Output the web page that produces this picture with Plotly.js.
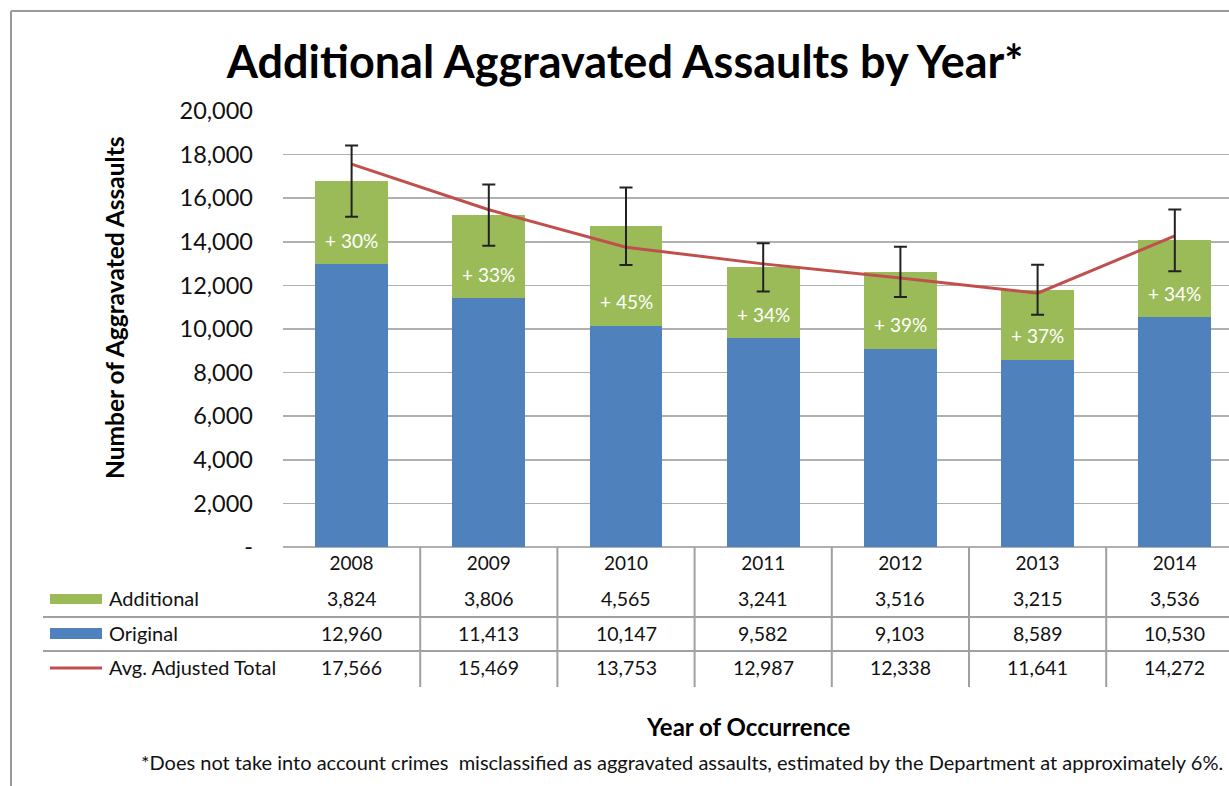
<!DOCTYPE html>
<html>
<head>
<meta charset="utf-8">
<script src="https://cdn.plot.ly/plotly-3.0.1.min.js"></script>
<style>html,body{margin:0;padding:0;background:#fff;}#chart{width:1229px;height:786px;}</style>
</head>
<body>
<div id="chart"></div>
<script>
// ---- data ----
const years = ["2008", "2009", "2010", "2011", "2012", "2013", "2014"];
const original = [12960, 11413, 10147, 9582, 9103, 8589, 10530];
const additional = [3824, 3806, 4565, 3241, 3516, 3215, 3536];
const avgAdjustedTotal = [17566, 15469, 13753, 12987, 12338, 11641, 14272];
const errorMargin = [1635, 1405, 1775, 1105, 1155, 1145, 1420];
const pctLabels = ["+ 30%", "+ 33%", "+ 45%", "+ 34%", "+ 39%", "+ 37%", "+ 34%"];
const rowNames = ["Additional", "Original", "Avg. Adjusted Total"];
const yTickVals = [0, 2000, 4000, 6000, 8000, 10000, 12000, 14000, 16000, 18000, 20000];
const yTickText = ["-", "2,000", "4,000", "6,000", "8,000", "10,000", "12,000", "14,000", "16,000", "18,000", "20,000"];

const BLUE = "#4F81BD", GREEN = "#9BBB59", RED = "#C0504D";
const FONT = "Lato, 'Open Sans', sans-serif";
const fmt = v => v.toLocaleString("en-US");
const totals = original.map((v, i) => v + additional[i]);
const idx = years.map((_, i) => i);

const traces = [
  {type: "bar", x: idx, y: original, name: "Original", marker: {color: BLUE}, width: 0.53, showlegend: false, hoverinfo: "skip"},
  {type: "bar", x: idx, y: additional, name: "Additional", marker: {color: GREEN}, width: 0.53, showlegend: false, hoverinfo: "skip"},
  {type: "scatter", mode: "lines", x: idx, y: avgAdjustedTotal, name: "Avg. Adjusted Total", line: {color: RED, width: 3}, showlegend: false},
  {type: "scatter", mode: "markers", x: idx, y: totals, marker: {size: 1, color: "rgba(0,0,0,0)"}, showlegend: false,
   error_y: {type: "data", array: errorMargin, visible: true, color: "#222", thickness: 2, width: 6.5}}
];

// table geometry in paper coords
const P = Y => (547 - Y) / 436;
const PX = X => (X - 283) / 946;
const rowY = [P(598), P(633), P(667)];
const rowVals = [additional, original, avgAdjustedTotal];

const annotations = [];
const shapes = [];

// percent labels inside green segments
idx.forEach(i => {
  annotations.push({xref: "x", yref: "y", x: i, y: original[i], yshift: 24, text: pctLabels[i], showarrow: false,
    font: {family: FONT, size: 19, color: "#fff"}, yanchor: "middle"});
});
// table values
rowVals.forEach((arr, r) => {
  arr.forEach((v, i) => {
    annotations.push({xref: "x", yref: "paper", x: i, y: rowY[r], text: fmt(v), showarrow: false,
      font: {family: FONT, size: 19.5, color: "#111"}, yanchor: "middle"});
  });
  annotations.push({xref: "paper", yref: "paper", x: PX(107), y: rowY[r], text: rowNames[r], showarrow: false,
    xanchor: "left", yanchor: "middle", font: {family: FONT, size: 20, color: "#111"}});
});
// axis titles and footnote
annotations.push({xref: "paper", yref: "paper", x: PX(114), y: P(308), text: "<b>Number of Aggravated Assaults</b>", textangle: -90,
  showarrow: false, xanchor: "center", yanchor: "middle", font: {family: FONT, size: 24.5, color: "#000"}});
annotations.push({xref: "paper", yref: "paper", x: PX(748), y: P(726), text: "<b>Year of Occurrence</b>",
  showarrow: false, xanchor: "center", yanchor: "middle", font: {family: FONT, size: 24, color: "#000"}});
annotations.push({xref: "paper", yref: "paper", x: PX(1225), y: P(762),
  text: "*Does not take into account crimes  misclassified as aggravated assaults, estimated by the Department at approximately 6%.",
  showarrow: false, xanchor: "right", yanchor: "middle", font: {family: FONT, size: 20, color: "#111"}});

// table lines
for (let i = 0; i < years.length - 1; i++) {
  shapes.push({type: "line", xref: "x", yref: "paper", x0: i + 0.5, x1: i + 0.5, y0: 0, y1: P(687), line: {color: "#a0a0a0", width: 2}});
}
[P(617), P(651)].forEach(y => shapes.push({type: "line", xref: "paper", yref: "paper", x0: PX(43), x1: 1, y0: y, y1: y, line: {color: "#a0a0a0", width: 2}}));
// legend keys
shapes.push({type: "rect", xref: "paper", yref: "paper", x0: PX(50), x1: PX(102), y0: P(604), y1: P(594), fillcolor: GREEN, line: {width: 0}});
shapes.push({type: "rect", xref: "paper", yref: "paper", x0: PX(50), x1: PX(102), y0: P(639), y1: P(628), fillcolor: BLUE, line: {width: 0}});
shapes.push({type: "line", xref: "paper", yref: "paper", x0: PX(50), x1: PX(102), y0: P(668), y1: P(668), line: {color: RED, width: 3}});
// outer border
shapes.push({type: "line", xref: "paper", yref: "paper", x0: PX(11), x1: 1.05, y0: P(11), y1: P(11), line: {color: "#999", width: 2}});
shapes.push({type: "line", xref: "paper", yref: "paper", x0: PX(11), x1: PX(11), y0: P(11), y1: P(800), line: {color: "#999", width: 2}});

const layout = {
  width: 1229, height: 786,
  margin: {l: 283, r: 0, t: 111, b: 239, pad: 0},
  paper_bgcolor: "#fff", plot_bgcolor: "#fff",
  barmode: "stack", showlegend: false,
  title: {text: "<b>Additional Aggravated Assaults by Year*</b>", x: 0.5086, xanchor: "center", y: 0.921, yanchor: "middle",
    font: {family: FONT, size: 45, color: "#000"}},
  xaxis: {type: "linear", range: [-0.5, 6.395], tickvals: idx, ticktext: years, showgrid: false, zeroline: false, showline: false,
    ticks: "", tickfont: {family: FONT, size: 19, color: "#111"}, ticklabelstandoff: 3, fixedrange: true},
  yaxis: {range: [0, 20000], tickvals: yTickVals, ticktext: yTickText, showgrid: true, gridcolor: "#b0b0b0", gridwidth: 1.5,
    zeroline: true, zerolinecolor: "#b0b0b0", zerolinewidth: 1.5, showline: false, ticks: "",
    tickfont: {family: FONT, size: 23.5, color: "#111"}, ticklabelstandoff: 29, fixedrange: true},
  annotations: annotations,
  shapes: shapes
};

Plotly.newPlot("chart", traces, layout, {displayModeBar: false, staticPlot: true});
</script>
</body>
</html>
